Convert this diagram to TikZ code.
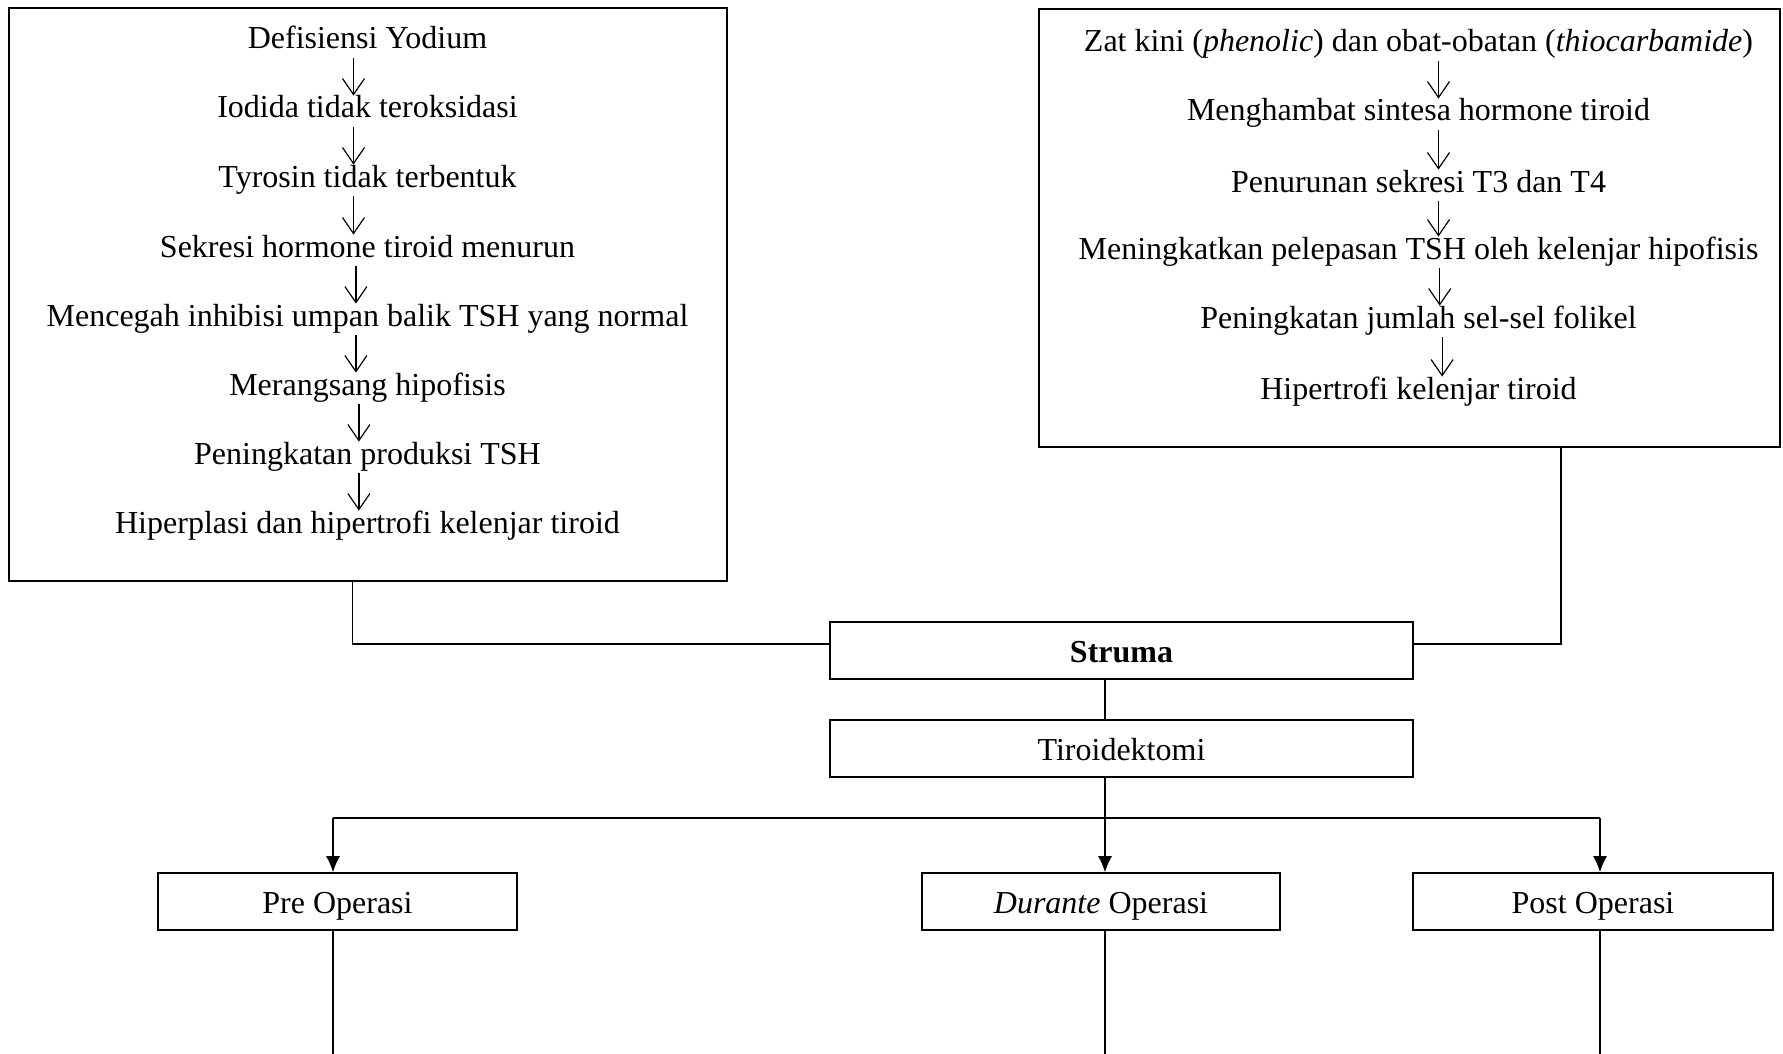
\documentclass[tikz,border=0pt]{standalone}
\usepackage{fontspec}
\setmainfont{Liberation Serif}
\usetikzlibrary{arrows.meta,positioning}

\begin{document}
\begin{tikzpicture}[x=0.5pt,y=-0.5pt,line join=miter,font=\fontsize{16}{19}\selectfont]
\useasboundingbox (0,0) rectangle (1783,1054);
\path[fill=white] (0,0) rectangle (1783,1054);
\tikzset{bigbox/.style={draw=black,line width=1pt,rectangle,inner sep=0pt},flowbox/.style={draw=black,line width=0.9pt,rectangle,inner sep=0pt,minimum height=28.5pt,text height=13pt,text depth=1.5pt},txt/.style={inner sep=0pt,text height=11pt,text depth=3.5pt},flow/.style={draw=black,line width=0.6pt,-{Straight Barb[length=8pt,width=11pt]},shorten <=1pt},link/.style={draw=black,line width=0.55pt},branch/.style={draw=black,line width=0.55pt,-{Latex[length=8pt,width=7pt]}}}
\node[bigbox,minimum width=359pt,minimum height=286.5pt] (causeA) at (368,294.5) {};
\node[bigbox,minimum width=370.5pt,minimum height=219pt] (causeB) at (1409.5,228) {};
\node[txt] (a1) at (367.5,41.5) {Defisiensi Yodium};
\node[txt] (a2) at (367.5,110.5) {Iodida tidak teroksidasi};
\node[txt] (a3) at (367.5,179.5) {Tyrosin tidak terbentuk};
\node[txt] (a4) at (367.5,249.5) {Sekresi hormone tiroid menurun};
\node[txt] (a5) at (367.5,318.5) {Mencegah inhibisi umpan balik TSH yang normal};
\node[txt] (a6) at (367.5,387.5) {Merangsang hipofisis};
\node[txt] (a7) at (367.5,456.5) {Peningkatan produksi TSH};
\node[txt] (a8) at (367.5,525.5) {Hiperplasi dan hipertrofi kelenjar tiroid};
\foreach \u/\v/\s in {a1/a2/-7,a2/a3/-7,a3/a4/-7,a4/a5/-5.8,a5/a6/-5.8,a6/a7/-4.3,a7/a8/-4.3}
  \draw[flow] ([xshift=\s pt]\u.south) -- ([xshift=\s pt]\v.north);
\node[txt] (b1) at (1418.5,44.5) {Zat kini (\textit{phenolic}) dan obat-obatan (\textit{thiocarbamide})};
\node[txt] (b2) at (1418.5,113.5) {Menghambat sintesa hormone tiroid};
\node[txt] (b3) at (1418.5,184.5) {Penurunan sekresi T3 dan T4};
\node[txt] (b4) at (1418.5,251.5) {Meningkatkan pelepasan TSH oleh kelenjar hipofisis};
\node[txt] (b5) at (1418.5,320.5) {Peningkatan jumlah sel-sel folikel};
\node[txt] (b6) at (1418.5,391.5) {Hipertrofi kelenjar tiroid};
\foreach \u/\v/\s in {b1/b2/10,b2/b3/10,b3/b4/10,b4/b5/10.6,b5/b6/11.8}
  \draw[flow] ([xshift=\s pt]\u.south) -- ([xshift=\s pt]\v.north);
\node[flowbox,minimum width=291.5pt] (struma) at (1121.5,650.5) {\textbf{Struma}};
\node[flowbox,minimum width=291.5pt] (tiroid) at (1121.5,748.5) {Tiroidektomi};
\node[flowbox,minimum width=179.5pt] (pre) at (337.5,901.5) {Pre Operasi};
\node[flowbox,minimum width=179pt] (durante) at (1101,901.5) {\textit{Durante} Operasi};
\node[flowbox,minimum width=180pt] (post) at (1593,901.5) {Post Operasi};
\coordinate (kneeL) at (352.5,644); \coordinate (kneeR) at (1561,644);
\coordinate (busL) at (333,818); \coordinate (busM) at (1105,818); \coordinate (busR) at (1600,818);
\coordinate (floor) at (0,1054);
\draw[link] (causeA.south -| kneeL) -- (kneeL) -- (struma.west |- kneeL);
\draw[link] (causeB.south -| kneeR) -- (kneeR) -- (struma.east |- kneeR);
\draw[link] (struma.south -| busM) -- (tiroid.north -| busM);
\draw[link] (tiroid.south -| busM) -- (busM);
\draw[link] (busL) -- (busR);
\draw[branch] (busL) -- (busL |- pre.north);
\draw[branch] (busM) -- (busM |- durante.north);
\draw[branch] (busR) -- (busR |- post.north);
\draw[link] (busL |- pre.south) -- (busL |- floor);
\draw[link] (busM |- durante.south) -- (busM |- floor);
\draw[link] (busR |- post.south) -- (busR |- floor);
\end{tikzpicture}
\end{document}
